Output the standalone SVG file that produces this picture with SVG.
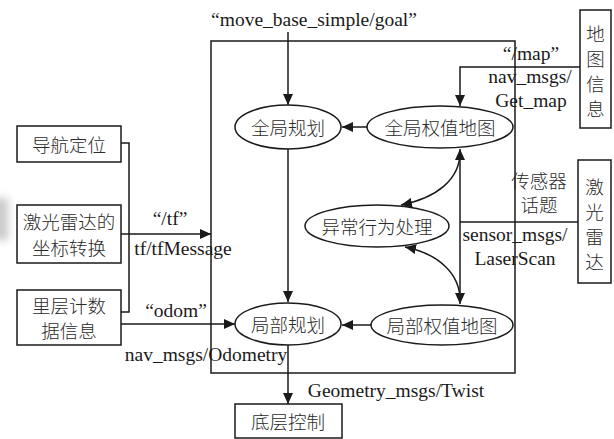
<svg xmlns="http://www.w3.org/2000/svg" width="614" height="439" viewBox="0 0 614 439">
  <style>
    .ln { fill: none; stroke: #1a1a1a; stroke-width: 1.5; }
    .bx { fill: #fff; stroke: #1a1a1a; stroke-width: 1.5; }
    .el { fill: #fff; stroke: #1a1a1a; stroke-width: 1.5; }
    .zh { font-family: "Noto Sans CJK SC", sans-serif; font-size: 18.5px; font-weight: 300; fill: #2a2a2a; text-anchor: middle; dominant-baseline: central; }
    .en { font-family: "Liberation Serif", "Times New Roman", serif; font-size: 19.5px; fill: #1a1a1a; text-anchor: middle; }
  </style>
  <defs>
    <marker id="ah" markerUnits="userSpaceOnUse" markerWidth="12" markerHeight="10" refX="11" refY="5" orient="auto-start-reverse">
      <path d="M0,0 L11,5 L0,10 z" fill="#1a1a1a"/>
    </marker>
    <filter id="soft" x="-50%" y="-50%" width="200%" height="200%">
      <feGaussianBlur stdDeviation="4"/>
    </filter>
  </defs>
  <rect width="614" height="439" fill="#fff"/>
  <!-- faint smudge at left edge -->
  <rect x="-6" y="198" width="14" height="42" fill="#c8c8c8" filter="url(#soft)"/>

  <!-- move_base container -->
  <rect class="ln" x="211" y="41" width="304" height="332"/>

  <!-- connectors -->
  <g id="connectors">
    <path class="ln" d="M288,32 V105" marker-end="url(#ah)"/>
    <path class="ln" d="M580,67 H460 V106" marker-end="url(#ah)"/>
    <path class="ln" d="M367,127 H342" marker-end="url(#ah)"/>
    <path class="ln" d="M288,149 V302" marker-end="url(#ah)"/>
    <path class="ln" d="M460,149 V304" marker-start="url(#ah)" marker-end="url(#ah)"/>
    <path class="ln" d="M578,222 H460"/>
    <path class="ln" d="M401,205 C436,198 460,180 460,152" marker-start="url(#ah)"/>
    <path class="ln" d="M405,247 C440,254 460,275 460,300" marker-start="url(#ah)"/>
    <path class="ln" d="M371,325 H342" marker-end="url(#ah)"/>
    <path class="ln" d="M288,345 V404" marker-end="url(#ah)"/>
    <path class="ln" d="M121,143 H129 V312 H121"/>
    <path class="ln" d="M121,234 H211" marker-end="url(#ah)"/>
    <path class="ln" d="M121,324 H235" marker-end="url(#ah)"/>
  </g>

  <!-- labels -->
  <g id="labels">
    <text class="en" x="314" y="26">“move_base_simple/goal”</text>
    <text class="en" x="531" y="60">“/map”</text>
    <text class="en" x="530" y="83">nav_msgs/</text>
    <text class="en" x="531" y="107">Get_map</text>
    <text class="zh" x="539" y="180">传感器</text>
    <text class="zh" x="539" y="204">话题</text>
    <text class="en" x="515" y="241">sensor_msgs/</text>
    <text class="en" x="515" y="265">LaserScan</text>
    <text class="en" x="170" y="225">“/tf”</text>
    <text class="en" x="183" y="255">tf/tfMessage</text>
    <text class="en" x="176" y="317">“odom”</text>
    <text class="en" x="206" y="361">nav_msgs/Odometry</text>
    <text class="en" x="396" y="397">Geometry_msgs/Twist</text>
  </g>

  <!-- nodes -->
  <g id="global_planner">
    <ellipse class="el" cx="288" cy="127" rx="53" ry="22"/>
    <text class="zh" x="288" y="127">全局规划</text>
  </g>
  <g id="global_costmap">
    <ellipse class="el" cx="440" cy="127" rx="73" ry="21"/>
    <text class="zh" x="440" y="127">全局权值地图</text>
  </g>
  <g id="recovery">
    <ellipse class="el" cx="377" cy="226" rx="72" ry="21"/>
    <text class="zh" x="377" y="226">异常行为处理</text>
  </g>
  <g id="local_planner">
    <ellipse class="el" cx="288" cy="324" rx="53" ry="21"/>
    <text class="zh" x="288" y="324">局部规划</text>
  </g>
  <g id="local_costmap">
    <ellipse class="el" cx="442" cy="325" rx="71" ry="20"/>
    <text class="zh" x="442" y="325">局部权值地图</text>
  </g>
  <g id="map_info">
    <rect class="bx" x="580" y="10" width="31" height="118"/>
    <text class="zh" x="595.5" y="33">地</text>
    <text class="zh" x="595.5" y="58">图</text>
    <text class="zh" x="595.5" y="83">信</text>
    <text class="zh" x="595.5" y="108">息</text>
  </g>
  <g id="laser">
    <rect class="bx" x="578" y="160" width="33" height="123"/>
    <text class="zh" x="594.5" y="186">激</text>
    <text class="zh" x="594.5" y="211">光</text>
    <text class="zh" x="594.5" y="236">雷</text>
    <text class="zh" x="594.5" y="261">达</text>
  </g>
  <g id="nav_localization">
    <rect class="bx" x="17" y="126" width="104" height="36"/>
    <text class="zh" x="69" y="144">导航定位</text>
  </g>
  <g id="laser_tf">
    <rect class="bx" x="17" y="205" width="104" height="58"/>
    <text class="zh" x="69" y="221">激光雷达的</text>
    <text class="zh" x="69" y="247">坐标转换</text>
  </g>
  <g id="odometry">
    <rect class="bx" x="17" y="290" width="104" height="55"/>
    <text class="zh" x="69" y="305">里层计数</text>
    <text class="zh" x="69" y="330">据信息</text>
  </g>
  <g id="base_control">
    <rect class="bx" x="235" y="404" width="107" height="34"/>
    <text class="zh" x="288" y="421">底层控制</text>
  </g>
</svg>
